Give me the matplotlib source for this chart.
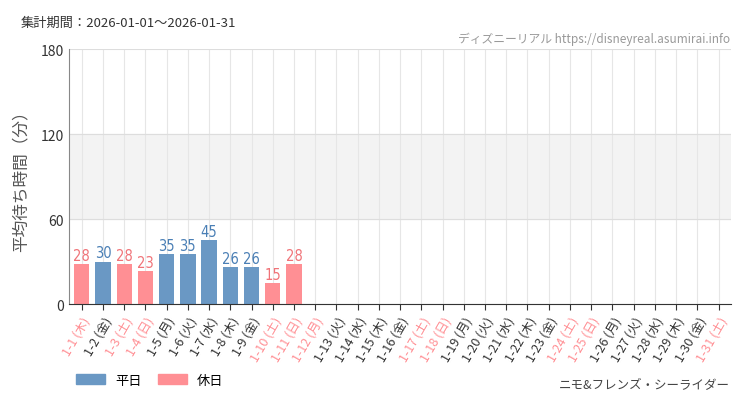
import matplotlib
matplotlib.use("Agg")
import matplotlib.pyplot as plt
from matplotlib.patches import Patch

plt.rcParams['font.family'] = ['Noto Sans CJK JP', 'DejaVu Sans']

days = list(range(1, 32))
weekdays = ['木','金','土','日','月','火','水','木','金','土','日','月','火','水','木','金','土','日','月','火','水','木','金','土','日','月','火','水','木','金','土']
holidays = [1, 3, 4, 10, 11, 12, 17, 18, 24, 25, 31]
values = [28, 30, 28, 23, 35, 35, 45, 26, 26, 15, 28]

BLUE = '#6a98c4'; PINK = '#ff8f94'
BLUE_T = '#4a7fb5'; PINK_T = '#f07378'

fig = plt.figure(figsize=(7.5, 4.1), dpi=100)
ax = fig.add_axes([0.092, 0.256, 0.883, 0.622])
ax.axhspan(60, 120, color='#f3f3f3', zorder=0)
for i, v in enumerate(values):
    d = i + 1
    hol = d in holidays
    ax.bar(i, v, width=0.72, color=PINK if hol else BLUE, zorder=2)
    ax.text(i, v + 0.8, str(v), ha='center', va='bottom', fontsize=10.5,
            color=PINK_T if hol else BLUE_T, family=['DejaVu Sans'], fontstretch='condensed')
ax.set_xlim(-0.6, 30.6)
ax.set_ylim(0, 180)
ax.set_yticks([0, 60, 120, 180])
ax.set_yticklabels(['0', '60', '120', '180'], fontsize=10, color='#333333')
ax.set_xticks(range(31))
labels = [f'1-{d} ({w})' for d, w in zip(days, weekdays)]
ax.set_xticklabels(labels, rotation=60, ha='right', rotation_mode='anchor', fontsize=9)
for lab, d in zip(ax.get_xticklabels(), days):
    lab.set_color(PINK if d in holidays else '#333333')
ax.grid(axis='x', color='#e6e6e6', lw=0.8, zorder=1)
ax.grid(axis='y', color='#dddddd', lw=0.8, zorder=1)
for s in ['top', 'right']:
    ax.spines[s].set_visible(False)
ax.spines['left'].set_color('#888888')
ax.spines['bottom'].set_color('#333333')
ax.tick_params(axis='x', length=4, color='#333333')
ax.tick_params(axis='y', length=0)
ax.set_ylabel('平均待ち時間（分）', fontsize=12, color='#555555', labelpad=8)

fig.text(0.027, 0.935, '集計期間：2026-01-01～2026-01-31', fontsize=9.5, color='#333333')
fig.text(0.973, 0.895, 'ディズニーリアル https://disneyreal.asumirai.info', fontsize=8.5, color='#999999', ha='right')
fig.text(0.973, 0.05, 'ニモ&フレンズ・シーライダー', fontsize=9, color='#444444', ha='right')
fig.legend(handles=[Patch(color=BLUE, label='平日'), Patch(color=PINK, label='休日')],
           loc='lower left', bbox_to_anchor=(0.085, 0.025), ncol=2, frameon=False,
           fontsize=9.5, handlelength=2.2, handleheight=0.8, columnspacing=1.2)
fig.savefig('out.png', dpi=100)
